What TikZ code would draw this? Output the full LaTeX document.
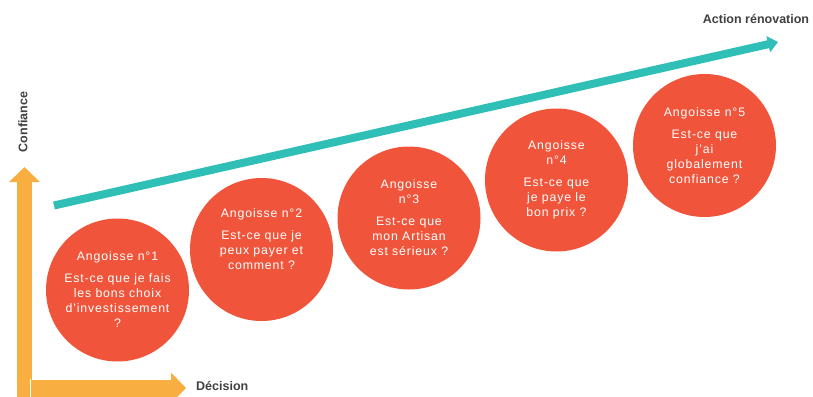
\documentclass[tikz,border=0pt]{standalone}
\usepackage{fontspec}
\setmainfont{Liberation Sans}
\newfontfamily\circfont[LetterSpace=7]{Liberation Sans}
\usetikzlibrary{arrows.meta}
\definecolor{teal1}{HTML}{2FBFB6}
\definecolor{orng}{HTML}{F9AE41}
\definecolor{redc}{HTML}{F0553B}
\definecolor{lbl}{HTML}{404040}
\tikzset{
  circ/.style={circle, fill=redc, minimum size=143pt, inner sep=0pt, text=white,
    align=center, font=\circfont\fontsize{12.3}{15}\selectfont},
  lab/.style={text=lbl, font=\bfseries\fontsize{12.5}{14}\selectfont, inner sep=0pt},
  axis/.style={orng, line width=15pt, -{Triangle[length=15pt,width=30pt]}},
  prog/.style={teal1, line width=8pt, -{Triangle[length=10pt,width=16pt]}}
}
\begin{document}
\begin{tikzpicture}[x=1pt,y=-1pt]
\useasboundingbox (0,0) rectangle (813,396);
% axes
\coordinate (vs) at (24.5,410);
\coordinate (ve) at (24.5,167);
\coordinate (hs) at (31,388);
\coordinate (he) at (186,388);
\draw[axis] (vs) -- (ve);
\draw[white, line width=1.2pt] (30.4,379) -- (30.4,400);
\draw[axis, line width=17pt] (hs) -- (he);
% teal progression arrow
\coordinate (ts) at (54,205.5);
\coordinate (te) at (778,42);
\draw[prog] (ts) -- (te);
% labels
\node[lab, rotate=90] (conf) at (23,122) {Confiance};
\node[lab, anchor=west] (dec) at (196,386) {Décision};
\node[lab] (act) at (756,19) {Action rénovation};
% circles
\node[circ] (c1) at (117.5,290) {Angoisse n°1\\[7pt]Est-ce que je fais\\les bons choix\\d’investissement\\?};
\node[circ] (c2) at (261.5,249.5) {\raisebox{0pt}{}Angoisse n°2\\[7pt]Est-ce que je\\peux payer et\\comment ?\\[6pt]\mbox{}};
\node[circ] (c3) at (409,218) {Angoisse\\n°3\\[7pt]Est-ce que\\mon Artisan\\est sérieux ?};
\node[circ] (c4) at (556.5,180) {Angoisse\\n°4\\[7pt]Est-ce que\\je paye le\\bon prix ?};
\node[circ] (c5) at (704.5,145.5) {Angoisse n°5\\[7pt]Est-ce que\\j’ai\\globalement\\confiance ?};
\end{tikzpicture}
\end{document}
